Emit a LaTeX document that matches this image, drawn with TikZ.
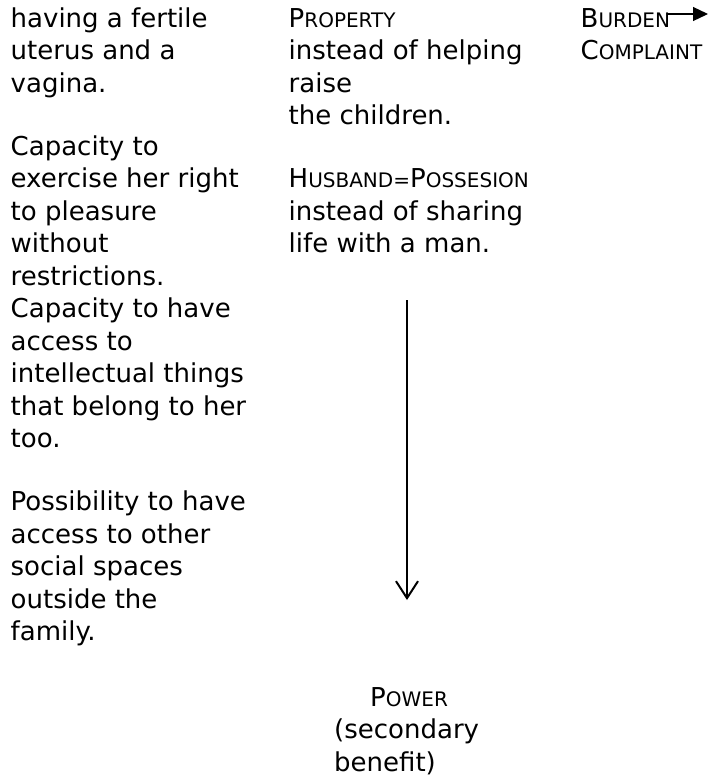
\documentclass[tikz,border=0pt]{standalone}
\usepackage{fontspec}
\setmainfont{DejaVu Sans}
\usetikzlibrary{arrows.meta}

% small capitals: first letter full size, the rest smaller
\newcommand{\smcap}[2]{#1{\fontsize{20}{32.5}\selectfont#2}}

\begin{document}
\begin{tikzpicture}[x=1pt, y=-1pt,
    col/.style={anchor=base west, inner sep=0pt, align=left,
        font=\fontsize{26}{32.5}\selectfont}]
    \pgfmathsetmacro{\lh}{32.5}% line height
    \pgfmathsetmacro{\gap}{30.5}% extra space between paragraphs
    % a node with several lines sits on the baseline of its last line
    \pgfmathsetmacro{\ygifts}{27 + 17 * \lh + 2 * \gap}
    \pgfmathsetmacro{\yproperty}{27 + 6 * \lh + \gap}
    \pgfmathsetmacro{\ypower}{706 + 2 * \lh}

    \useasboundingbox (0, 0) rectangle (715, 777);

    % left column
    \node[col] (gifts) at (10.5, \ygifts) {having a fertile\\
        uterus and a\\
        vagina.\\[\gap pt]
        Capacity to\\
        exercise her right\\
        to pleasure\\
        without\\
        restrictions.\\
        Capacity to have\\
        access to\\
        intellectual things\\
        that belong to her\\
        too.\\[\gap pt]
        Possibility to have\\
        access to other\\
        social spaces\\
        outside the\\
        family.};

    % middle column
    \node[col] (property) at (288.5, \yproperty) {\smcap{P}{ROPERTY}\\
        instead of helping\\
        raise\\
        the children.\\[\gap pt]
        \smcap{H}{USBAND=}\smcap{P}{OSSESION}\\
        instead of sharing\\
        life with a man.};

    % right column
    \node[col] (burden) at (580.5, 27) {\smcap{B}{URDEN}};
    \node[col] (complaint) at (580.5, 27 + \lh) {\smcap{C}{OMPLAINT}};

    % bottom
    \node[col] (power) at (334, \ypower) {\hspace*{36pt}\smcap{P}{OWER}\\
        (secondary\\
        benefit)};

    \coordinate (burdentip) at (708, 14);
    \coordinate (top) at (407, 300);
    \coordinate (tip) at (407, 600);

    \draw[line width=1.2pt, -{Triangle[length=15pt, width=14pt]}]
        ([xshift=-2pt]burden.east |- burdentip) -- (burdentip);
    \draw[line width=2pt, -{Straight Barb[length=17pt, width=22pt]}]
        (top) -- (tip);
\end{tikzpicture}
\end{document}
